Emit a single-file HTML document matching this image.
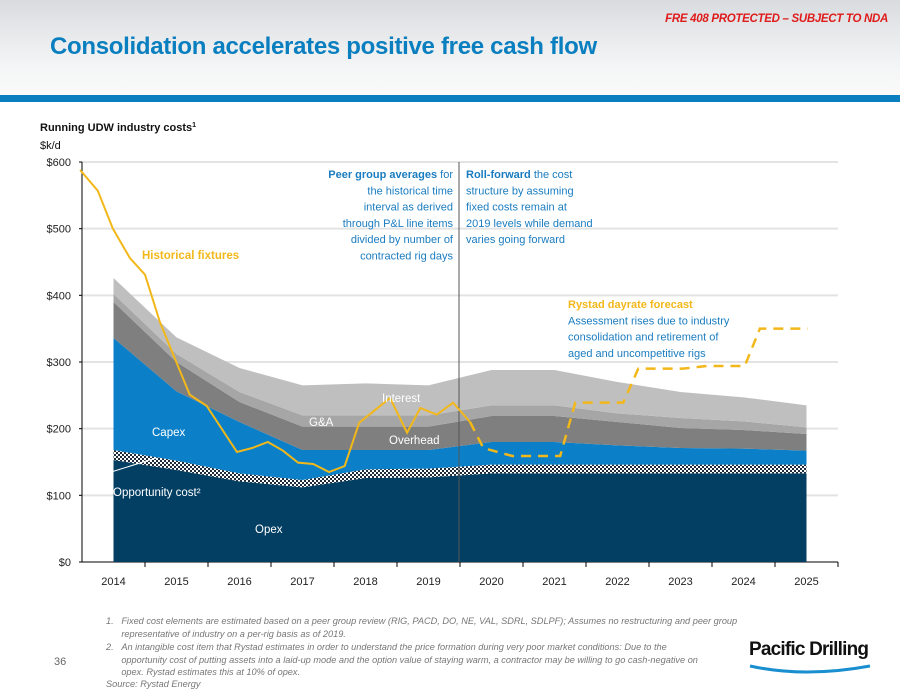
<!DOCTYPE html>
<html><head><meta charset="utf-8">
<style>
body{margin:0;width:900px;height:695px;overflow:hidden;background:#fff;font-family:"Liberation Sans",sans-serif;position:relative}
#hdr{position:absolute;left:0;top:0;width:900px;height:95px;background:linear-gradient(#d9dcdf,#f4f5f6 70%,#fafafa)}
#bar{position:absolute;left:0;top:95px;width:900px;height:7px;background:#0a7fc0}
#nda{position:absolute;right:12px;top:13px;color:#e01b1b;font-size:11.5px;font-style:italic;font-weight:bold;letter-spacing:-0.3px}
#title{position:absolute;left:50px;top:33px;color:#0a7fc0;font-size:24px;font-weight:bold;letter-spacing:-0.3px}
.fn{position:absolute;color:#777;font-size:9.2px;font-style:italic;line-height:12.7px;white-space:nowrap}
</style></head><body>
<div id="hdr"></div>
<div id="bar"></div>
<div id="nda">FRE 408 PROTECTED – SUBJECT TO NDA</div>
<div id="title">Consolidation accelerates positive free cash flow</div>
<svg id="chart" width="900" height="695" style="position:absolute;left:0;top:0">
<defs><pattern id="chk" width="4" height="4" patternUnits="userSpaceOnUse"><rect width="4" height="4" fill="#fff"/><rect width="2" height="2" fill="#1d2b3a"/><rect x="2" y="2" width="2" height="2" fill="#1d2b3a"/></pattern></defs>
<g id="plot"></g>
</svg>
<div class="fn" style="left:106px;top:615px">1.&nbsp;&nbsp;&nbsp;Fixed cost elements are estimated based on a peer group review (RIG, PACD, DO, NE, VAL, SDRL, SDLPF); Assumes no restructuring and peer group<br>&nbsp;&nbsp;&nbsp;&nbsp;&nbsp;&nbsp;representative of industry on a per-rig basis as of 2019.</div>
<div class="fn" style="left:106px;top:641px">2.&nbsp;&nbsp;&nbsp;An intangible cost item that Rystad estimates in order to understand the price formation during very poor market conditions: Due to the<br>&nbsp;&nbsp;&nbsp;&nbsp;&nbsp;&nbsp;opportunity cost of putting assets into a laid-up mode and the option value of staying warm, a contractor may be willing to go cash-negative on<br>&nbsp;&nbsp;&nbsp;&nbsp;&nbsp;&nbsp;opex. Rystad estimates this at 10% of opex.</div>
<div class="fn" style="left:106px;top:678px">Source: Rystad Energy</div>
<div style="position:absolute;left:54px;top:656px;font-size:11px;color:#666">36</div>
<div style="position:absolute;left:749px;top:639px;font-size:19px;font-weight:bold;color:#111;letter-spacing:-0.8px">Pacific Drilling</div>
<svg width="130" height="20" style="position:absolute;left:745px;top:662px"><path d="M5 4 Q60 16 125 4" stroke="#1a8fd0" stroke-width="3" fill="none"/></svg>
<script>
const years=[2014,2015,2016,2017,2018,2019,2020,2021,2022,2023,2024,2025];
const opex=[153,138,121,112,126,127,133,133,133,133,133,133];
const oppCost=[15,14,12,11,13,13,13,13,13,13,13,13];
const capex=[168,104,77,45,29,28,34,34,29,25,24,21];
const overhead=[54,44,30,35,35,35,39,39,35,30,28,25];
const ga=[12,12,15,17,17,17,16,16,13,15,13,10];
const interest=[24,25,36,45,48,45,53,53,47,39,36,33];
const fixT=[2013.47,2013.75,2013.99,2014.26,2014.5,2014.74,2015.21,2015.48,2015.96,2016.2,2016.45,2016.69,2016.93,2017.17,2017.42,2017.67,2017.9,2018.39,2018.66,2018.87,2019.13,2019.39,2019.66];
const fixV=[588,557,500,456,431,359,251,234,165,171,180,167,149,147,135,144,209,246,194,231,221,239,210];
const fcT=[2019.66,2019.87,2020.33,2021.09,2021.33,2022.09,2022.33,2023.04,2023.42,2024.02,2024.26,2025.02];
const fcV=[210,171,159,159,239,239,290,290,294,294,350,350];
const yTicks=[0,100,200,300,400,500,600];

const NS='http://www.w3.org/2000/svg';
const g=document.getElementById('plot');
const X0=82,X1=838,Y0=562,Y1=162;
const xs=t=>113.5+(t-2014)*63;
const ys=v=>Y0-(v/600)*(Y0-Y1);
function mk(tag,at,parent){const e=document.createElementNS(NS,tag);for(const k in at)e.setAttribute(k,at[k]);(parent||g).appendChild(e);return e;}
function txt(x,y,s,at){const e=mk('text',Object.assign({x:x,y:y},at));e.textContent=s;return e;}

yTicks.forEach(v=>{
  const l=mk('line',{x1:X0,x2:X1,y1:ys(v),y2:ys(v),stroke:v?'#e3e3e3':'#000','stroke-width':v?2:1});
  
  
  const t=txt(71,ys(v)+4,'$'+v,{'font-size':11,'text-anchor':'end',fill:'#222'});
  
  
  mk('line',{x1:X0-3,x2:X0,y1:ys(v),y2:ys(v),stroke:'#000'});
});
mk('line',{x1:X0,x2:X0,y1:Y1,y2:Y0,stroke:'#000'});

const series=[['opex',opex,'#023f63'],['opportunity-cost',oppCost,'url(#chk)'],['capex',capex,'#0b80c8'],['overhead',overhead,'#7f7f7f'],['g-and-a',ga,'#a6a6a6'],['interest',interest,'#bfbfbf']];
let base=years.map(()=>0);
series.forEach(([name,vals,fill])=>{
  const top=base.map((b,i)=>b+vals[i]);
  let d='M'+years.map((y,i)=>xs(y)+','+ys(top[i])).join('L');
  d+='L'+years.map((y,i)=>xs(y)+','+ys(base[i])).reverse().join('L')+'Z';
  const p=mk('path',{d:d,fill:fill});
  
  
  base=top;
});

years.forEach((y,i)=>{
  const t=txt(xs(y),585,String(y),{'font-size':11,'text-anchor':'middle',fill:'#222'});
  
  
  const tx=xs(y)+31.5;
  mk('line',{x1:tx,x2:tx,y1:Y0,y2:Y0+5,stroke:'#000'});
});

const div=mk('line',{x1:459,x2:459,y1:Y1,y2:Y0,stroke:'#555','stroke-width':1});



const fl=mk('polyline',{points:fixT.map((t,i)=>xs(t)+','+ys(fixV[i])).join(' '),fill:'none',stroke:'#f2b81a','stroke-width':2});


const fc=mk('polyline',{points:fcT.map((t,i)=>xs(t)+','+ys(fcV[i])).join(' '),fill:'none',stroke:'#f2b81a','stroke-width':2.5,'stroke-dasharray':'10,7'});



mk('line',{x1:108,y1:473,x2:156,y2:458,stroke:'#fff'});
const labels=[[152,436,'Capex','#fff','capex-label'],[309,426,'G&A','#fff','ga-label'],[382,402,'Interest','#fff','interest-label'],[389,444,'Overhead','#fff','overhead-label'],[113,496,'Opportunity cost²','#fff','opp-cost-label'],[255,533,'Opex','#fff','opex-label']];
labels.forEach(([x,y,s,c,n])=>{const t=txt(x,y,s,{'font-size':11.5,fill:c});});
const hf=txt(142,259,'Historical fixtures',{'font-size':11.5,'font-weight':'bold',fill:'#f2b81a'});



const ax=txt(40,131,'Running UDW industry costs',{'font-size':11,'font-weight':'bold',fill:'#111'});


const sup=mk('tspan',{'font-size':7,dy:-4},ax);sup.textContent='1';
const un=txt(40,149,'$k/d',{'font-size':11,fill:'#111'});



function block(x,y,lines,anchor,name){
  const t=mk('text',{x:x,y:y,'font-size':11,'text-anchor':anchor,fill:'#1a7cc0'});
  
  
  lines.forEach((ln,i)=>{const s=mk('tspan',{x:x,dy:i?16.3:0},t);
    if(Array.isArray(ln)){const b=mk('tspan',{'font-weight':'bold',fill:ln[2]||'#1a7cc0'},s);b.textContent=ln[0];const r=mk('tspan',{},s);r.textContent=ln[1];}else s.textContent=ln;});
}
block(453,178,[['Peer group averages',' for'],'the historical time','interval as derived','through P&L line items','divided by number of','contracted rig days'],'end','peer-group-note');
block(466,178,[['Roll-forward',' the cost'],'structure by assuming','fixed costs remain at','2019 levels while demand','varies going forward'],'start','roll-forward-note');
block(568,308,[['Rystad dayrate forecast','','#f2b81a'],'Assessment rises due to industry','consolidation and retirement of','aged and uncompetitive rigs'],'start','rystad-forecast-note');
</script>
</body></html>
